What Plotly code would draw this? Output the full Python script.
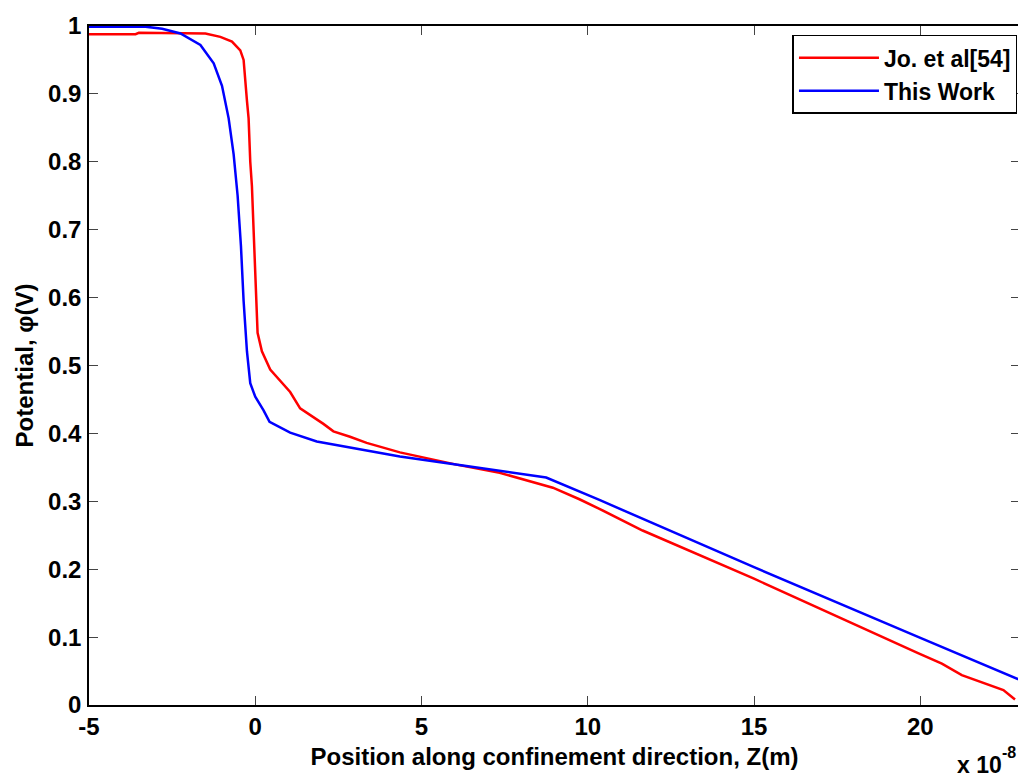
import plotly.graph_objects as go

# x in units of 1e-8 m
jo_x = [-5, -3.6, -3.5, -2.0, -1.5, -1.05, -0.7, -0.45, -0.35, -0.25, -0.2, -0.15, -0.1,
        -0.05, -0.02, 0.03, 0.07, 0.2, 0.45, 1.05, 1.35, 2.05, 2.35, 2.85, 3.35, 4.35,
        6.05, 7.35, 8.95, 9.75, 10.35, 11.65, 15.0, 19.95, 20.65, 21.25, 22.5, 22.85]
jo_y = [0.988, 0.988, 0.990, 0.990, 0.989, 0.984, 0.977, 0.964, 0.950, 0.890, 0.864, 0.800, 0.764,
        0.700, 0.663, 0.595, 0.548, 0.521, 0.494, 0.461, 0.437, 0.414, 0.403, 0.395, 0.386, 0.372,
        0.354, 0.342, 0.320, 0.303, 0.289, 0.257, 0.186, 0.076, 0.061, 0.044, 0.022, 0.008]

tw_x = [-5, -3.3, -2.8, -2.25, -1.65, -1.25, -1.0, -0.8, -0.65, -0.53, -0.43, -0.35, -0.25,
        -0.15, 0.0, 0.25, 0.43, 1.05, 1.85, 2.85, 4.35, 6.35, 8.75, 10.35, 15.0, 19.95, 23.0]
tw_y = [0.999, 0.999, 0.996, 0.989, 0.972, 0.945, 0.912, 0.864, 0.811, 0.750, 0.676, 0.595, 0.521,
        0.474, 0.454, 0.434, 0.417, 0.401, 0.388, 0.379, 0.366, 0.352, 0.335, 0.302, 0.203, 0.100, 0.037]

x_ticks = [-5, 0, 5, 10, 15, 20]
y_ticks = [0, 0.1, 0.2, 0.3, 0.4, 0.5, 0.6, 0.7, 0.8, 0.9, 1]
y_labels = ["0", "0.1", "0.2", "0.3", "0.4", "0.5", "0.6", "0.7", "0.8", "0.9", "1"]

FAM = "Liberation Sans, Arial, sans-serif"
SIZE = 24

fig = go.Figure()
fig.add_trace(go.Scatter(x=jo_x, y=jo_y, mode="lines", name="<b>Jo. et al[54]</b>",
                         line=dict(color="#FF0000", width=2.5)))
fig.add_trace(go.Scatter(x=tw_x, y=tw_y, mode="lines", name="<b>This Work</b>",
                         line=dict(color="#0000FF", width=2.5)))

axis_common = dict(showline=True, linecolor="black", linewidth=1.5, mirror="ticks",
                   ticks="inside", ticklen=9, tickwidth=1, tickcolor="#444",
                   showgrid=False, zeroline=False)

# the page body adds an 8 px offset, so the figure is 8 px smaller on each axis
fig.update_layout(
    width=1018, height=770,
    paper_bgcolor="white", plot_bgcolor="white",
    margin=dict(l=81, r=4, t=14, b=73),
    font=dict(family=FAM, size=SIZE, color="black"),
    showlegend=True,
    legend=dict(x=0.7556, y=0.987, xanchor="left", yanchor="top",
                bordercolor="black", borderwidth=1.5, bgcolor="white",
                font=dict(family=FAM, size=23, color="black"),
                tracegroupgap=0, itemwidth=80),
    xaxis=dict(range=[-5, 23], tickvals=x_ticks, ticktext=[str(v) for v in x_ticks],
               tickfont=dict(size=SIZE, family=FAM, weight="bold"),
               ticklabelstandoff=-1,
               title=dict(text="<b>Position along confinement direction, Z(m)</b>", standoff=10,
                          font=dict(size=SIZE, family=FAM)),
               **axis_common),
    yaxis=dict(range=[0, 1], tickvals=y_ticks, ticktext=y_labels,
               tickfont=dict(size=SIZE, family=FAM, weight="bold"),
               ticklabelstandoff=1,
               title=dict(text="<b>Potential, φ(V)</b>", standoff=8,
                          font=dict(size=SIZE, family=FAM)),
               **axis_common),
)

# axis multiplier "x 10^-8", drawn as base text plus a raised exponent
fig.add_annotation(text="<b>x 10</b>", xref="paper", yref="paper",
                   x=0.9303, y=-0.111, xanchor="left", yanchor="bottom", showarrow=False,
                   font=dict(size=23, family=FAM))
fig.add_annotation(text="<b>-8</b>", xref="paper", yref="paper",
                   x=0.979, y=-0.085, xanchor="left", yanchor="bottom", showarrow=False,
                   font=dict(size=16, family=FAM))

fig.write_html("out.html")
